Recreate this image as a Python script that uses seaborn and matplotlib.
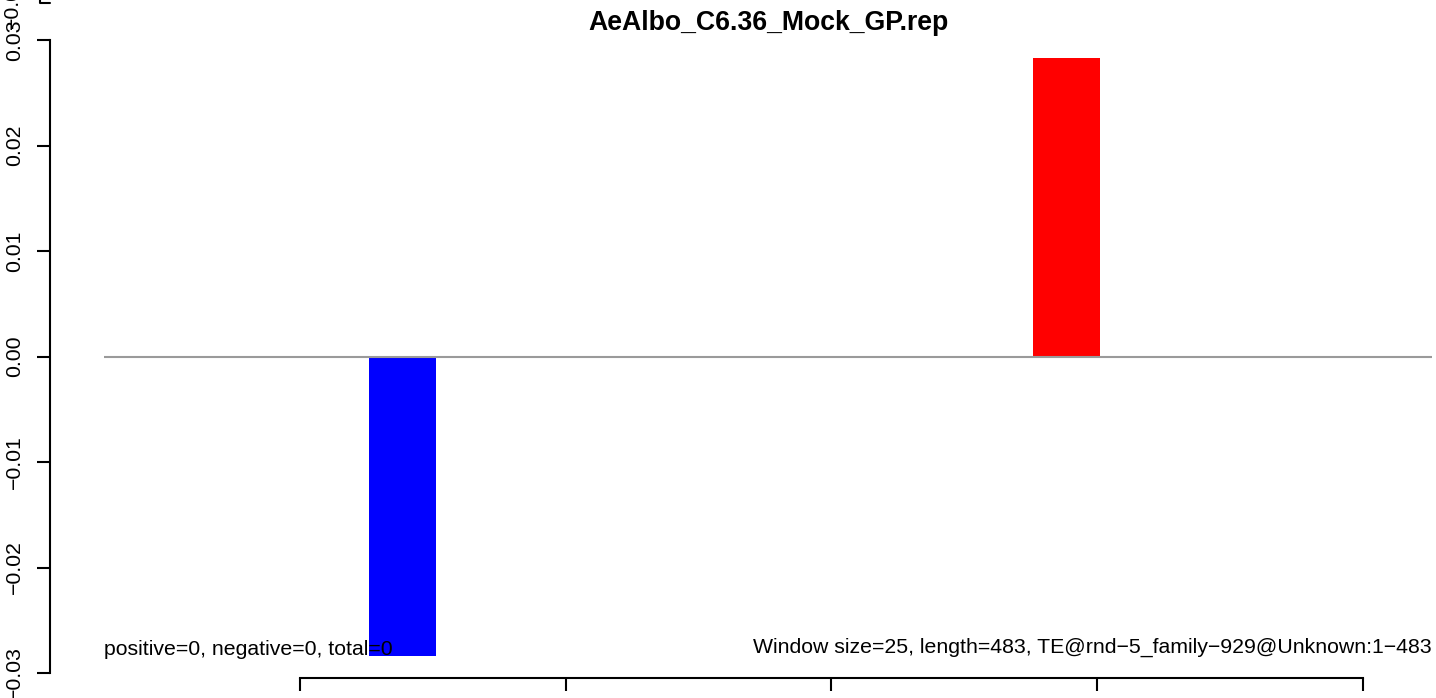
import pandas as pd
import matplotlib.pyplot as plt
from matplotlib.lines import Line2D
import seaborn as sns

# sliding windows over the TE (window size 25, length 483)
window_centers = [13.5, 38.5, 63.5, 88.5, 113.5, 138.5, 163.5, 188.5, 213.5, 238.5,
                  263.5, 288.5, 313.5, 338.5, 363.5, 388.5, 413.5, 438.5, 463.5, 488.5]
window_values = [0, 0, 0, 0, 0, -0.0284, 0, 0, 0, 0,
                 0, 0, 0, 0, 0, 0.0283, 0, 0, 0, 0]

y_ticks = [-0.03, -0.02, -0.01, 0.00, 0.01, 0.02, 0.03]
y_tick_labels = ["\u22120.03", "\u22120.02", "\u22120.01", "0.00", "0.01", "0.02", "0.03"]
x_ticks = [100, 200, 300, 400, 500]

title = "AeAlbo_C6.36_Mock_GP.rep"
left_note = "positive=0, negative=0, total=0"
right_note = "Window size=25, length=483, TE@rnd\u22125_family\u2212929@Unknown:1\u2212483"

df = pd.DataFrame({"pos": window_centers, "value": window_values})
df["sign"] = ["neg" if v < 0 else ("pos" if v > 0 else "zero") for v in df["value"]]

sns.set_style("white")
plt.rcParams["font.family"] = ["Liberation Sans", "DejaVu Sans"]
plt.rcParams["text.color"] = "black"

W, H = 1436, 698
fig = plt.figure(figsize=(W / 100, H / 100), dpi=100)
ax = fig.add_axes([104 / W, 25 / H, 1328 / W, 633 / H])

sns.barplot(data=df, x="pos", y="value", hue="sign", native_scale=True,
            palette={"neg": "#0000FF", "pos": "#FF0000", "zero": "#FFFFFF"},
            saturation=1, dodge=False, width=1.0, errorbar=None, linewidth=0,
            legend=False, ax=ax, zorder=2)

ax.axhline(0, color="#9a9a9a", lw=1.5, zorder=3)

ax.set_xlim(26.2, 526.1)
ax.set_ylim(-0.03, 0.03)

# R-style detached axes
for s in ["top", "right"]:
    ax.spines[s].set_visible(False)
ax.spines["left"].set_position(("outward", 54 * 0.72))
ax.spines["left"].set_bounds(-0.03, 0.03)
ax.spines["bottom"].set_position(("outward", 5 * 0.72))
ax.spines["bottom"].set_bounds(100, 500)
for s in ["left", "bottom"]:
    ax.spines[s].set_color("black")
    ax.spines[s].set_linewidth(1.5)

ax.set_yticks(y_ticks)
ax.set_yticklabels(y_tick_labels, rotation=90, va="center", fontsize=15.3)
ax.set_xticks(x_ticks)
ax.set_xticklabels([])
ax.tick_params(axis="both", direction="out", length=9.5, width=1.5, color="black",
               labelcolor="black", bottom=True, left=True)
ax.tick_params(axis="y", pad=9)
ax.set_xlabel("")
ax.set_ylabel("")

ax.text(26.2, -0.02834, left_note, ha="left", va="baseline", fontsize=15.3,
        color="black", zorder=4)
ax.text(526.1, -0.02806, right_note, ha="right", va="baseline", fontsize=15.3,
        color="black", zorder=4)

fig.text((104 + 1432) / 2 / W, 1 - 30 / H, title, ha="center", va="baseline",
         fontsize=19.2, fontweight="bold", color="black")

# edge of the neighbouring panel above, cut off by the crop
fig.text(12 / W, 1 - 2 / H, "\u22120.03", rotation=90, ha="center", va="center",
         fontsize=15.3, color="black")
fig.add_artist(Line2D([40 / W, 40 / W, 50 / W], [1, 1 - 3 / H, 1 - 3 / H],
                      color="black", lw=1.5))

fig.savefig("out.png", dpi=100)
